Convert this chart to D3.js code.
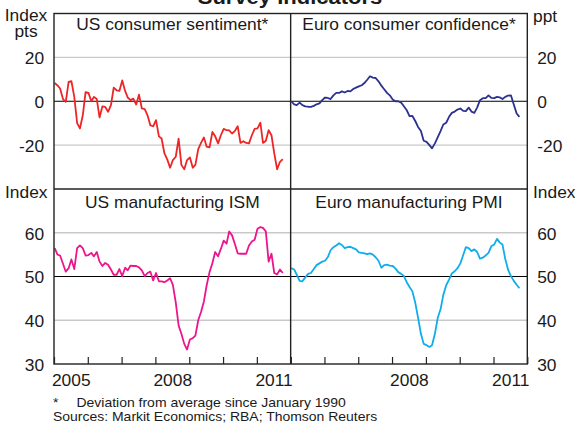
<!DOCTYPE html>
<html>
<head>
<meta charset="utf-8">
<script src="https://cdn.jsdelivr.net/npm/d3@7"></script>
<style>
body { margin: 0; background: #fff; }
text { font-family: "Liberation Sans", Arial, sans-serif; fill: #1a1a1a; }
</style>
</head>
<body>
<div id="chart"></div>
<script>
// monthly values, Jan 2005 to Oct 2011
const startYear = 2005;
const endYear = 2012;

const usSentiment = [8.3, 7.2, 5.8, 1, -0.3, 8.8, 9.2, 2, -10, -12.4,
    -6.4, 4.2, 3.8, 0, 2, 1, -7.4, -2.3, -2.6, -4.8,
    -1.8, 6.2, 5, 4.7, 9.5, 4.7, 1.7, 0.5, 1.2, -1.5,
    3, -3.3, -3.6, -6.4, -11, -11.4, -8.6, -16, -17, -23.8,
    -26.5, -30.3, -26.8, -25.3, -17, -29, -31, -26.8, -25.6, -30.3,
    -29, -21.8, -19, -16.5, -20.7, -21, -14, -16, -19.2, -15.5,
    -12.6, -13.2, -13.3, -14.7, -13.6, -11.4, -19, -18.2, -19, -19.2,
    -15.5, -12.6, -12.4, -9.8, -19, -18, -13.2, -15.5, -23.8, -31,
    -27.6, -26.4];

const euroConfidence = [0, -1.4, -1.8, -0.6, -1.8, -2.3, -2.5, -2.6, -2.1, -1.4,
    -1, 0.5, 1.7, 1.5, 1, 2.7, 3.8, 3.8, 4.5, 4,
    4.7, 4.5, 5.6, 6.2, 6.8, 7.3, 8.3, 9.8, 11.4, 10.8,
    10.6, 9.1, 7.1, 5.5, 3.8, 2.7, 0.8, 0, 0, -0.6,
    -2.3, -4.1, -6.8, -6.7, -9, -11.7, -13.6, -18, -18.5, -20,
    -21.5, -19.2, -16.5, -13.6, -10.6, -9.8, -7.1, -5.3, -4.7, -3.8,
    -3.3, -4.4, -4.5, -2.9, -4.7, -5.3, -2.9, 0.5, 1.4, 1.4,
    2.7, 1.5, 1.4, 2, 1.8, 1, 2, 2.6, 2.7, -1.5,
    -5.6, -7.1];

const usIsm = [56.5, 55, 54.8, 52.9, 51.1, 51.9, 53.9, 51.7, 56.5, 57.1,
    56.5, 54.8, 54.9, 55.4, 54.6, 55.6, 53.4, 52.4, 53.1, 52.7,
    51.6, 50.4, 50.4, 51.7, 50.1, 52, 51.4, 52.5, 52.4, 52.4,
    52.1, 51.4, 50.1, 50.8, 51.1, 49.1, 50.8, 48.9, 48.9, 48.7,
    49.1, 49.6, 48.1, 44.1, 38.8, 36.9, 34.6, 33.3, 35.6, 35.9,
    36.5, 40, 41.9, 44.3, 48, 51, 53.1, 55.6, 54.6, 56.3,
    58.2, 57.5, 60.3, 59.4, 57.5, 55.3, 55.2, 55.2, 55.2, 57.1,
    58, 58.4, 60.9, 61.3, 61.1, 60.3, 53.4, 55.2, 50.8, 50.5,
    51.6, 50.8];

const euroPmi = [51.9, 51.6, 50.4, 49, 48.9, 49.8, 50.6, 50.8, 51.7, 52.6,
    53, 53.4, 53.6, 54.5, 56, 56.7, 57.1, 57.6, 57.2, 56.5,
    56.7, 56.8, 56.5, 56.2, 55.5, 55.4, 55.3, 55.1, 55.3, 55,
    54.4, 53.6, 52, 52.6, 52.7, 52.5, 52.4, 51.8, 51, 50.6,
    50.1, 48.7, 47.6, 46.6, 44, 40.6, 36.9, 34.6, 34.3, 33.9,
    34.3, 36.9, 40.5, 42.5, 45.8, 48, 49.3, 50.7, 51.2, 51.9,
    53, 54.9, 56.7, 56.5, 55.8, 56.2, 55.6, 54.1, 54.3, 54.8,
    55.4, 56.9, 57.3, 58.6, 57.8, 57.3, 54, 51.5, 50.1, 49,
    48.1, 47.3];

const topTicks = [-20, 0, 20];
const bottomTicks = [30, 40, 50, 60];
const leftYearLabels = [2005, 2008, 2011];
const rightYearLabels = [2008, 2011];

const width = 575;
const height = 424;
const frame = {left: 54, right: 527.3, top: 13.5, mid: 189, bottom: 364};
const midX = (frame.left + frame.right) / 2;
const sx = 1.1; // reference type is a little wide

const svg = d3.select("#chart")
    .append("svg")
    .attr("width", width)
    .attr("height", height);

function stretch(sel) {
    sel.attr("transform", function() {
        let t = d3.select(this).attr("transform") || "";
        return t + " scale(" + sx + ",1)";
    });
}

function label(x, y, str, anchor, size, weight) {
    return svg.append("text")
        .attr("transform", "translate(" + x + "," + y + ") scale(" + sx + ",1)")
        .attr("text-anchor", anchor)
        .style("font-size", size + "px")
        .style("font-weight", weight || "normal")
        .text(str);
}

let yTop = d3.scaleLinear().domain([-40, 40]).range([frame.mid, frame.top]);
let yBottom = d3.scaleLinear().domain([30, 70]).range([frame.bottom, frame.mid]);

let xLeft = d3.scaleTime()
    .domain([new Date(startYear, 0, 1), new Date(endYear, 0, 1)])
    .range([frame.left, midX]);
let xRight = d3.scaleTime()
    .domain([new Date(startYear, 0, 1), new Date(endYear, 0, 1)])
    .range([midX, frame.right]);

const panels = [
    {title: "US consumer sentiment*", data: usSentiment, color: "#ee2526", x: xLeft, y: yTop, grid: [-20, 20], zero: 0, titleY: 30},
    {title: "Euro consumer confidence*", data: euroConfidence, color: "#2b3190", x: xRight, y: yTop, grid: [-20, 20], zero: 0, titleY: 30},
    {title: "US manufacturing ISM", data: usIsm, color: "#ec158c", x: xLeft, y: yBottom, grid: [40, 60], zero: 50, titleY: 208},
    {title: "Euro manufacturing PMI", data: euroPmi, color: "#10adec", x: xRight, y: yBottom, grid: [40, 60], zero: 50, titleY: 208}
];

panels.forEach(function(p) {
    let r = p.x.range();
    svg.append("g")
        .selectAll("line")
        .data(p.grid)
        .join("line")
        .attr("x1", r[0]).attr("x2", r[1])
        .attr("y1", d => p.y(d)).attr("y2", d => p.y(d))
        .attr("stroke", "#c9c9c9")
        .attr("stroke-width", 1.3);

    svg.append("line")
        .attr("x1", r[0]).attr("x2", r[1])
        .attr("y1", p.y(p.zero)).attr("y2", p.y(p.zero))
        .attr("stroke", "#000")
        .attr("stroke-width", 1);

    svg.append("path")
        .datum(p.data)
        .attr("fill", "none")
        .attr("stroke", p.color)
        .attr("stroke-width", 1.8)
        .attr("stroke-linejoin", "round")
        .attr("d", d3.line()
            .x((d, i) => p.x(new Date(startYear, i, 8)))
            .y(d => p.y(d)));

    label((r[0] + r[1]) / 2, p.titleY, p.title, "middle", 15.8);
});

// year tick marks pointing up from the bottom axis
[xLeft, xRight].forEach(function(x) {
    svg.append("g")
        .attr("transform", "translate(0," + frame.bottom + ")")
        .call(d3.axisTop(x).ticks(d3.timeYear.every(1)).tickSize(7).tickFormat(""))
        .call(g => g.select(".domain").remove())
        .selectAll("line")
        .attr("stroke", "#222")
        .attr("stroke-width", 1.2);
});

// year labels, centred on each year
function yearAxis(x, years) {
    svg.append("g")
        .attr("transform", "translate(0," + frame.bottom + ")")
        .call(d3.axisBottom(x)
            .tickValues(years.map(y => new Date(y, 6, 1)))
            .tickSize(0)
            .tickPadding(11)
            .tickFormat(d3.timeFormat("%Y")))
        .call(g => g.select(".domain").remove())
        .selectAll("text")
        .style("font-size", "15.8px")
        .style("font-family", "'Liberation Sans', Arial, sans-serif")
        .attr("fill", "#1a1a1a")
        .call(stretch);
}
yearAxis(xLeft, leftYearLabels);
yearAxis(xRight, rightYearLabels);

// value axes (plain hyphen for negatives, like the reference)
function valueAxis(axis, x, ticks) {
    svg.append("g")
        .attr("transform", "translate(" + x + ",0)")
        .call(axis.tickValues(ticks).tickSize(0).tickPadding(9).tickFormat(d => String(d)))
        .call(g => g.select(".domain").remove())
        .selectAll("text")
        .attr("dy", "0.4em")
        .style("font-size", "15.8px")
        .style("font-family", "'Liberation Sans', Arial, sans-serif")
        .attr("fill", "#1a1a1a")
        .call(stretch);
}
valueAxis(d3.axisLeft(yTop), frame.left, topTicks);
valueAxis(d3.axisRight(yTop), frame.right, topTicks);
valueAxis(d3.axisLeft(yBottom), frame.left, bottomTicks);
valueAxis(d3.axisRight(yBottom), frame.right, bottomTicks);

// frame and dividers
svg.append("rect")
    .attr("x", frame.left).attr("y", frame.top)
    .attr("width", frame.right - frame.left)
    .attr("height", frame.bottom - frame.top)
    .attr("fill", "none")
    .attr("stroke", "#222")
    .attr("stroke-width", 1.4);
svg.append("line")
    .attr("x1", frame.left).attr("x2", frame.right)
    .attr("y1", frame.mid).attr("y2", frame.mid)
    .attr("stroke", "#222").attr("stroke-width", 1.4);
svg.append("line")
    .attr("x1", midX).attr("x2", midX)
    .attr("y1", frame.top).attr("y2", frame.bottom)
    .attr("stroke", "#222").attr("stroke-width", 1.4);

// unit labels
label(26, 20.7, "Index", "middle", 15.8);
label(26, 37, "pts", "middle", 15.8);
label(533, 21.5, "ppt", "start", 15.8);
label(47.5, 198, "Index", "end", 15.8);
label(533, 198, "Index", "start", 15.8);

// title, mostly cropped off the top as in the reference
label(290, 4, "Survey Indicators", "middle", 20, "bold");

// notes
label(53, 406.5, "*", "start", 12.7);
label(76.5, 406.5, "Deviation from average since January 1990", "start", 12.7);
label(53, 420.5, "Sources: Markit Economics; RBA; Thomson Reuters", "start", 12.7);
</script>
</body>
</html>
